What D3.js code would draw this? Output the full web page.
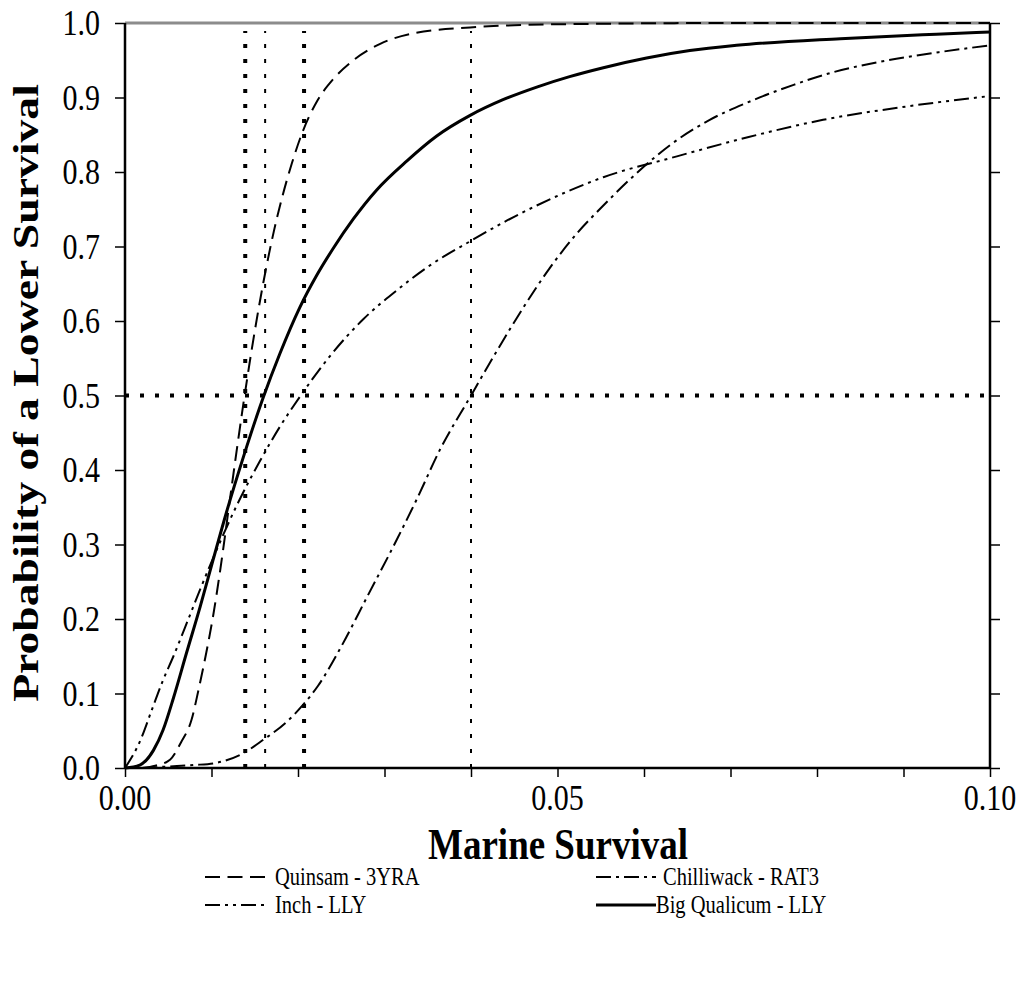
<!DOCTYPE html>
<html>
<head>
<meta charset="utf-8">
<script src="https://cdn.jsdelivr.net/npm/d3@7"></script>
<style>
  html, body { margin: 0; padding: 0; background: #fff; }
  svg { display: block; }
  text { font-family: "Liberation Serif", "Times New Roman", serif; fill: #000; }
</style>
</head>
<body>
<svg id="chart" width="1023" height="982"></svg>
<script>
// ---------- data ----------
const xTickValues = [0, 0.01, 0.02, 0.03, 0.04, 0.05, 0.06, 0.07, 0.08, 0.09, 0.10];
const xTickLabels = ["0.00", "", "", "", "", "0.05", "", "", "", "", "0.10"];
const yTickValues = [0, 0.1, 0.2, 0.3, 0.4, 0.5, 0.6, 0.7, 0.8, 0.9, 1.0];
const yTickLabels = ["0.0", "0.1", "0.2", "0.3", "0.4", "0.5", "0.6", "0.7", "0.8", "0.9", "1.0"];

const seriesNames = ["Quinsam - 3YRA", "Chilliwack - RAT3", "Inch - LLY", "Big Qualicum - LLY"];

const quinsamX = [0.002, 0.0035, 0.0052, 0.0065, 0.0077, 0.0085, 0.0094, 0.0102, 0.011, 0.0123, 0.0137, 0.0146, 0.016, 0.0172, 0.0181, 0.0193, 0.0206, 0.0222, 0.0241, 0.0264, 0.0295, 0.0333, 0.0399, 0.045, 0.055, 0.07, 0.1];
const quinsamP = [0, 0.003, 0.011, 0.035, 0.065, 0.105, 0.155, 0.205, 0.265, 0.375, 0.49, 0.558, 0.652, 0.72, 0.763, 0.812, 0.856, 0.895, 0.925, 0.950, 0.972, 0.986, 0.994, 0.997, 0.999, 1, 1];

const chilliwackX = [0.002, 0.005, 0.008, 0.0106, 0.0137, 0.016, 0.0187, 0.0206, 0.0223, 0.025, 0.028, 0.0314, 0.0337, 0.0364, 0.0399, 0.043, 0.0461, 0.0491, 0.0522, 0.0553, 0.0592, 0.063, 0.0676, 0.0719, 0.0773, 0.0819, 0.0873, 0.0942, 0.1];
const chilliwackP = [0, 0.002, 0.004, 0.007, 0.02, 0.038, 0.062, 0.085, 0.11, 0.163, 0.23, 0.306, 0.36, 0.427, 0.498, 0.56, 0.619, 0.671, 0.717, 0.755, 0.799, 0.836, 0.870, 0.893, 0.917, 0.934, 0.948, 0.961, 0.97];

const inchX = [0, 0.0017, 0.0031, 0.0044, 0.0056, 0.0075, 0.0087, 0.0106, 0.0129, 0.0156, 0.0179, 0.0202, 0.0237, 0.0276, 0.0314, 0.0353, 0.0399, 0.0437, 0.0476, 0.0553, 0.0638, 0.0721, 0.0807, 0.0904, 0.1];
const inchP = [0, 0.035, 0.078, 0.118, 0.150, 0.205, 0.24, 0.293, 0.352, 0.412, 0.458, 0.498, 0.553, 0.603, 0.641, 0.675, 0.707, 0.732, 0.755, 0.793, 0.821, 0.847, 0.870, 0.888, 0.902];

const bigQualicumX = [0, 0.0017, 0.0033, 0.0044, 0.0056, 0.0071, 0.0087, 0.0102, 0.0118, 0.0137, 0.016, 0.0179, 0.0202, 0.0222, 0.0241, 0.0264, 0.0291, 0.0326, 0.036, 0.0399, 0.0437, 0.0476, 0.0514, 0.0553, 0.0603, 0.0653, 0.0707, 0.0827, 0.0938, 0.1];
const bigQualicumP = [0, 0.004, 0.024, 0.051, 0.094, 0.154, 0.217, 0.28, 0.346, 0.418, 0.498, 0.556, 0.618, 0.662, 0.698, 0.737, 0.776, 0.815, 0.848, 0.876, 0.897, 0.914, 0.928, 0.940, 0.953, 0.963, 0.970, 0.979, 0.985, 0.988];

// reference lines: medians (vertical) and the 0.5 probability level
const medianX = [0.0139, 0.0162, 0.0207, 0.040];
const medianHeavy = [true, false, true, false];
const halfLevel = [0.5];

// ---------- layout ----------
const L = 125, R = 990, T = 23, B = 768;
const svg = d3.select("#chart");

const x = d3.scaleLinear().domain([0, 0.1]).range([L, R]);
const y = d3.scaleLinear().domain([0, 1]).range([B, T]);

const styles = [
  { dash: "15,7.5", width: 2 },          // Quinsam
  { dash: "15,5,3,5", width: 2 },        // Chilliwack
  { dash: "15,5,3,5,3,5", width: 2 },    // Inch
  { dash: null, width: 3 }               // Big Qualicum
];
const seriesData = [
  d3.zip(quinsamX, quinsamP),
  d3.zip(chilliwackX, chilliwackP),
  d3.zip(inchX, inchP),
  d3.zip(bigQualicumX, bigQualicumP)
];

// top border (gray)
svg.append("line").attr("x1", L).attr("x2", R).attr("y1", T).attr("y2", T)
  .attr("stroke", "#8c8c8c").attr("stroke-width", 3);

// reference dotted lines
svg.selectAll(".vref").data(medianX).enter().append("line")
  .attr("x1", d => x(d)).attr("x2", d => x(d))
  .attr("y1", y(0)).attr("y2", y(1) + 8)
  .attr("stroke", "#000")
  .attr("stroke-width", (d, i) => medianHeavy[i] ? 4 : 2)
  .attr("stroke-dasharray", "4,11");
svg.selectAll(".href").data(halfLevel).enter().append("line")
  .attr("x1", x(0)).attr("x2", x(0.1))
  .attr("y1", d => y(d)).attr("y2", d => y(d))
  .attr("stroke", "#000").attr("stroke-width", 4)
  .attr("stroke-dasharray", "4,11");

// curves
const line = d3.line().x(d => x(d[0])).y(d => y(d[1])).curve(d3.curveMonotoneX);
svg.selectAll(".curve").data(seriesData).enter().append("path")
  .attr("d", d => line(d))
  .attr("fill", "none").attr("stroke", "#000")
  .attr("stroke-width", (d, i) => styles[i].width)
  .attr("stroke-dasharray", (d, i) => styles[i].dash)
  .attr("stroke-linejoin", "round");

// axes
const tickFont = 30, stretch = 1.22;
const yAxisL = svg.append("g").attr("transform", `translate(${L},0)`)
  .call(d3.axisLeft(y).tickValues(yTickValues).tickSize(10).tickFormat(""));
const yAxisR = svg.append("g").attr("transform", `translate(${R},0)`)
  .call(d3.axisRight(y).tickValues(yTickValues).tickSize(10).tickFormat(""));
const xAxis = svg.append("g").attr("transform", `translate(0,${B})`)
  .call(d3.axisBottom(x).tickValues(xTickValues).tickSize(9).tickFormat(""));
[yAxisL, yAxisR, xAxis].forEach(g => {
  g.select(".domain").attr("stroke", "#000").attr("stroke-width", 2.5);
  g.selectAll(".tick line").attr("stroke", "#000").attr("stroke-width", 1.5);
});
yAxisR.select(".domain").attr("d", `M0,${T}V${B}`);
yAxisL.select(".domain").attr("d", `M0,${T}V${B}`);
xAxis.select(".domain").attr("d", `M${L},0H${R}`);

// tick labels
svg.selectAll(".ylab").data(yTickValues).enter().append("text")
  .attr("transform", (d) => `translate(100,${y(d) + 12}) scale(1,${stretch})`)
  .attr("text-anchor", "end").attr("font-size", tickFont)
  .text((d, i) => yTickLabels[i]);
svg.selectAll(".xlab").data(xTickValues).enter().append("text")
  .attr("transform", (d) => `translate(${x(d)},810) scale(1,${stretch})`)
  .attr("text-anchor", "middle").attr("font-size", tickFont)
  .text((d, i) => xTickLabels[i]);

// axis titles
svg.append("text")
  .attr("transform", `translate(558,859) scale(1,1.2)`)
  .attr("text-anchor", "middle").attr("font-size", 37).attr("font-weight", "bold")
  .text("Marine Survival");
svg.append("text")
  .attr("transform", `translate(38,393) rotate(-90) scale(1.27,1)`)
  .attr("text-anchor", "middle").attr("font-size", 36).attr("font-weight", "bold")
  .text("Probability of a Lower Survival");

// legend
const legendPos = [
  { lx: 205, tx: 275, y: 877 },
  { lx: 596, tx: 663, y: 877 },
  { lx: 205, tx: 275, y: 905 },
  { lx: 596, tx: 656, y: 905 }
];
const leg = svg.selectAll(".leg").data(seriesNames).enter().append("g");
leg.append("line")
  .attr("x1", (d, i) => legendPos[i].lx).attr("x2", (d, i) => legendPos[i].lx + 60)
  .attr("y1", (d, i) => legendPos[i].y).attr("y2", (d, i) => legendPos[i].y)
  .attr("stroke", "#000")
  .attr("stroke-width", (d, i) => styles[i].width)
  .attr("stroke-dasharray", (d, i) => styles[i].dash);
leg.append("text")
  .attr("transform", (d, i) => `translate(${legendPos[i].tx},${legendPos[i].y + 8}) scale(1,1.22)`)
  .attr("font-size", 20.5)
  .text(d => d);
</script>
</body>
</html>
